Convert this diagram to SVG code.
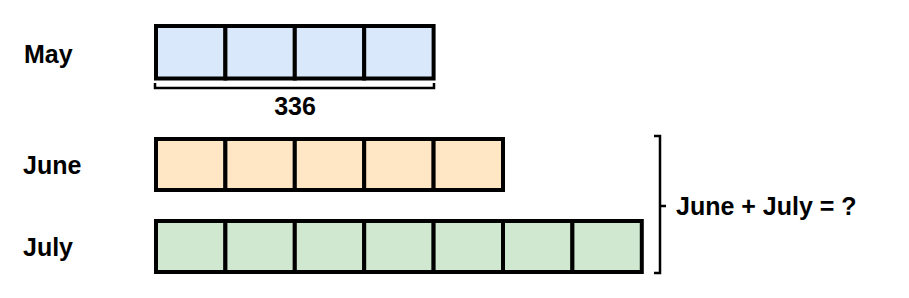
<svg xmlns="http://www.w3.org/2000/svg" width="909" height="298" viewBox="0 0 909 298">
<style>
.lbl{font-family:"Liberation Sans",Arial,sans-serif;font-weight:bold;font-size:25px;fill:#000}
.may{fill:#dae8fc;stroke:#000;stroke-width:4}
.jun{fill:#ffe6c4;stroke:#000;stroke-width:4}
.jul{fill:#d0e8d0;stroke:#000;stroke-width:4}
.br{fill:none;stroke:#000;stroke-width:2.5}
</style>
<rect width="909" height="298" fill="#fff"/>
<g id="may-label"><text class="lbl" x="24" y="63">May</text></g>
<g id="june-label"><text class="lbl" x="23" y="174">June</text></g>
<g id="july-label"><text class="lbl" x="23" y="256">July</text></g>
<g id="may-bar">
<rect class="may" x="156" y="26" width="69.4" height="52.5"/>
<rect class="may" x="225.4" y="26" width="69.4" height="52.5"/>
<rect class="may" x="294.8" y="26" width="69.4" height="52.5"/>
<rect class="may" x="364.2" y="26" width="69.4" height="52.5"/>
</g>
<g id="june-bar">
<rect class="jun" x="156" y="139" width="69.4" height="51"/>
<rect class="jun" x="225.4" y="139" width="69.4" height="51"/>
<rect class="jun" x="294.8" y="139" width="69.4" height="51"/>
<rect class="jun" x="364.2" y="139" width="69.4" height="51"/>
<rect class="jun" x="433.6" y="139" width="69.4" height="51"/>
</g>
<g id="july-bar">
<rect class="jul" x="156" y="221" width="69.4" height="51"/>
<rect class="jul" x="225.4" y="221" width="69.4" height="51"/>
<rect class="jul" x="294.8" y="221" width="69.4" height="51"/>
<rect class="jul" x="364.2" y="221" width="69.4" height="51"/>
<rect class="jul" x="433.6" y="221" width="69.4" height="51"/>
<rect class="jul" x="503" y="221" width="69.4" height="51"/>
<rect class="jul" x="572.4" y="221" width="69.4" height="51"/>
</g>
<g id="connectors">
<path class="br" d="M155,83 V88 H434 V83"/>
<path class="br" d="M654,136 H660 V273 H654 M660,206 H666"/>
</g>
<g id="may-total"><text class="lbl" x="295" y="115" text-anchor="middle">336</text></g>
<g id="question"><text class="lbl" x="676" y="215">June + July = ?</text></g>
</svg>
